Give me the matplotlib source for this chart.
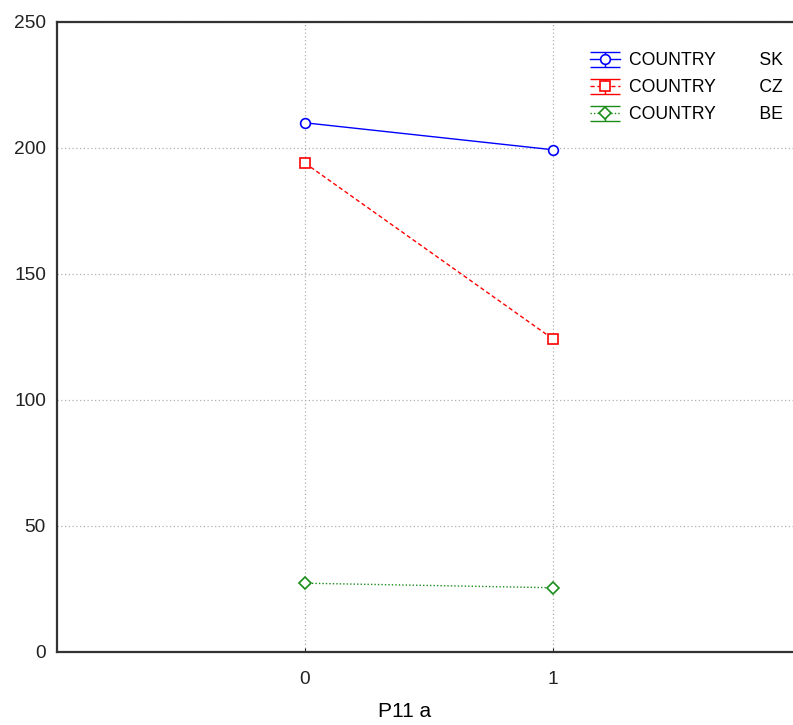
import matplotlib
matplotlib.use("Agg")
import matplotlib.pyplot as plt
from matplotlib.path import Path
from matplotlib.lines import Line2D
from matplotlib.legend_handler import HandlerTuple

plt.rcParams['font.family'] = ['Liberation Sans', 'DejaVu Sans']

categories = [0, 1]
tick_labels = ["0", "1"]
series_names = ["SK", "CZ", "BE"]
sk_values = [210.0, 199.3]
cz_values = [194.0, 124.2]
be_values = [27.3, 25.5]
y_ticks = [0, 50, 100, 150, 200, 250]
x_label = "P11 a"

fig = plt.figure(figsize=(7.93, 7.25), dpi=100)
ax_w = 744
ax = fig.add_axes([57/793, (725-652)/725, ax_w/793, (652-22)/725])

styles = [
    dict(color="#0000ff", linestyle="-", marker="o"),
    dict(color="#ff0000", linestyle=(0, (3, 2)), marker="s"),
    dict(color="#1a8c1a", linestyle=(0, (1, 1.5)), marker="D"),
]
all_values = [sk_values, cz_values, be_values]

cap_path = Path(
    [(-1, 0.5), (1, 0.5), (0, 0.5), (0, -0.5), (-1, -0.5), (1, -0.5)],
    [Path.MOVETO, Path.LINETO, Path.MOVETO, Path.LINETO, Path.MOVETO, Path.LINETO],
)

handles = []
labels = []
for name, vals, st in zip(series_names, all_values, styles):
    ms = 7 if st["marker"] != "D" else 6
    line, = ax.plot(categories, vals, color=st["color"], linestyle=st["linestyle"],
                    linewidth=1.0, marker=st["marker"], markersize=ms,
                    markerfacecolor="white", markeredgecolor=st["color"],
                    markeredgewidth=1.2, zorder=3)
    cap = Line2D([], [], linestyle="none", marker=cap_path, markersize=21.6,
                 color=st["color"], markeredgewidth=1.0)
    handles.append((cap, line))
    labels.append("COUNTRY" + " " * 9 + name)

leg = ax.legend(handles, labels, handler_map={tuple: HandlerTuple(ndivide=1, pad=0)},
                loc="upper left", bbox_to_anchor=((590-57)/ax_w, 1 - (52-22)/630),
                frameon=False, fontsize=12.7, handlelength=1.7, handletextpad=0.5,
                labelspacing=0.58, borderaxespad=0, borderpad=0)
for t in leg.get_texts():
    t.set_color("black")

ax.set_xlim(-1, 2.0)
ax.set_ylim(0, 250)
ax.set_xticks(categories)
ax.set_xticklabels(tick_labels)
ax.set_yticks(y_ticks)
ax.tick_params(axis="both", direction="in", length=3, labelsize=13.8, colors="#222222")
ax.tick_params(axis="x", pad=14)
ax.tick_params(axis="y", pad=8, length=0)
ax.set_xlabel(x_label, fontsize=15, labelpad=10, x=(405-57)/ax_w)
ax.grid(True, color="#b0b0b0", linestyle=(0, (1, 2)), linewidth=0.9)
ax.set_axisbelow(True)
for s in ["left", "top", "bottom"]:
    ax.spines[s].set_linewidth(1.6)
    ax.spines[s].set_color("#333333")
ax.spines["right"].set_visible(False)

fig.savefig("out.png", dpi=100)
